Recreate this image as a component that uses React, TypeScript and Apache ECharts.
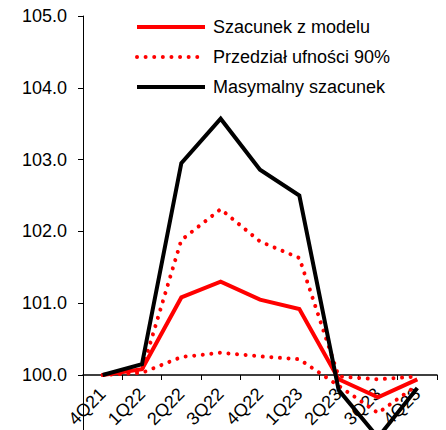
import React, { useEffect, useRef } from "react";
import * as echarts from "echarts";

const categories = ["4Q21", "1Q22", "2Q22", "3Q22", "4Q22", "1Q23", "2Q23", "3Q23", "4Q23"];
const modelValues = [100.0, 100.08, 101.08, 101.3, 101.05, 100.92, 99.94, 99.69, 99.94];
const upperValues = [100.0, 100.06, 101.88, 102.31, 101.86, 101.63, 99.98, 99.94, 99.98];
const lowerValues = [100.0, 100.03, 100.25, 100.31, 100.26, 100.22, 99.85, 99.47, 99.86];
const maxValues = [100.0, 100.15, 102.95, 103.57, 102.86, 102.5, 99.79, 99.13, 99.82];

const nameModel = "Szacunek z modelu";
const nameBand = "Przedział ufności 90%";
const nameMax = "Masymalny szacunek";

const FONT = "'Liberation Sans', Arial, sans-serif";

export default function App() {
  const ref = useRef<HTMLDivElement>(null);
  useEffect(() => {
    if (!ref.current) return;
    const chart = echarts.init(ref.current, null, { renderer: "svg" });
    const dotted = {
      color: "#ff0000",
      width: 4,
      type: [0.01, 8.6] as any,
      cap: "round" as const,
    };
    chart.setOption({
      animation: false,
      backgroundColor: "#ffffff",
      textStyle: { fontFamily: FONT },
      legend: {
        orient: "vertical",
        left: 135,
        top: 17,
        padding: 0,
        itemWidth: 68,
        itemHeight: 20,
        itemGap: 10,
        data: [nameModel, nameBand, nameMax],
        lineStyle: { width: "inherit" },
        itemStyle: { color: "transparent", borderWidth: 0, opacity: 0 },
        textStyle: {
          fontFamily: FONT,
          fontSize: 18,
          color: "#000",
          lineHeight: 20,
          padding: [0, 0, 0, 3],
        },
      },
      grid: {
        left: 83,
        right: 9,
        top: 16,
        height: 430.8,
        containLabel: false,
        outerBoundsMode: "none",
      },
      xAxis: {
        type: "category",
        data: categories,
        boundaryGap: true,
        offset: -71.8,
        axisLine: { show: true, lineStyle: { color: "#000", width: 1.5 } },
        axisTick: { show: true, length: 5, alignWithLabel: false, lineStyle: { color: "#000" } },
        axisLabel: {
          rotate: 45,
          interval: 0,
          margin: 16,
          fontSize: 18,
          fontFamily: FONT,
          color: "#000",
        },
        splitLine: { show: false },
      },
      yAxis: {
        type: "value",
        min: 99,
        max: 105,
        interval: 1,
        axisLine: { show: true, lineStyle: { color: "#000", width: 1 } },
        axisTick: { show: true, length: 5, lineStyle: { color: "#000" } },
        axisLabel: {
          margin: 16,
          fontSize: 18,
          fontFamily: FONT,
          color: "#000",
          formatter: (v: number) => (v < 100 ? "" : v.toFixed(1)),
        },
        splitLine: { show: false },
      },
      series: [
        {
          name: nameBand,
          type: "line",
          data: lowerValues,
          symbol: "none",
          clip: false,
          color: "#ff0000",
          lineStyle: dotted,
        },
        {
          name: nameBand,
          type: "line",
          data: upperValues,
          symbol: "none",
          clip: false,
          color: "#ff0000",
          lineStyle: dotted,
        },
        {
          name: nameModel,
          type: "line",
          data: modelValues,
          symbol: "none",
          clip: false,
          color: "#ff0000",
          lineStyle: { color: "#ff0000", width: 4, cap: "butt", join: "miter" },
        },
        {
          name: nameMax,
          type: "line",
          data: maxValues,
          symbol: "none",
          clip: false,
          color: "#000000",
          lineStyle: { color: "#000000", width: 4, join: "miter" },
        },
      ],
    });
    return () => chart.dispose();
  }, []);
  return <div ref={ref} style={{ width: 446, height: 430, position: "absolute", left: 0, top: 0 }} />;
}
